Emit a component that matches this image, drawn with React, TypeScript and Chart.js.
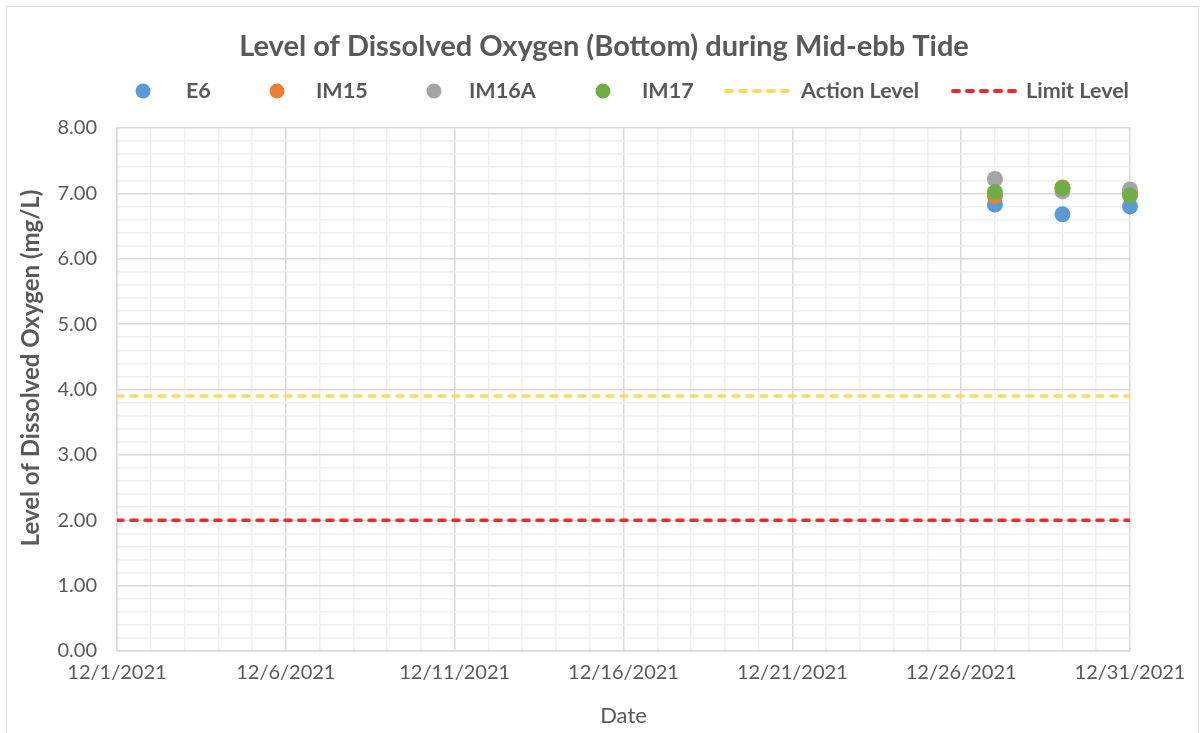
import React, { useEffect, useRef } from 'react';
import { Chart, registerables } from 'chart.js';

Chart.register(...registerables);

// ---- data ----
const sampleDates = ['12/27/2021', '12/29/2021', '12/31/2021'];
const e6Values = [6.83, 6.68, 6.8];
const im15Values = [6.96, 7.09, 7.0];
const im16aValues = [7.22, 7.03, 7.06];
const im17Values = [7.02, 7.08, 6.97];
const actionLevel = 3.9;
const limitLevel = 2.0;
const xRange = ['12/1/2021', '12/31/2021'];
const xTickLabels = ['12/1/2021', '12/6/2021', '12/11/2021', '12/16/2021', '12/21/2021', '12/26/2021', '12/31/2021'];
const yTickLabels = ['0.00', '1.00', '2.00', '3.00', '4.00', '5.00', '6.00', '7.00', '8.00'];

const TITLE = 'Level of Dissolved Oxygen (Bottom) during Mid-ebb Tide';
const Y_TITLE = 'Level of Dissolved Oxygen (mg/L)';
const X_TITLE = 'Date';

const FONT = 'Lato, "Open Sans", sans-serif';
const TEXT = '#595959';

const toDay = (s: string) => {
  const [m, d, y] = s.split('/').map(Number);
  const [m0, d0, y0] = xRange[0].split('/').map(Number);
  return Math.round((Date.UTC(y, m - 1, d) - Date.UTC(y0, m0 - 1, d0)) / 86400000);
};

const pts = (vals: number[]) => vals.map((v, i) => ({ x: toDay(sampleDates[i]), y: v }));
const levelLine = (v: number) => [
  { x: toDay(xRange[0]), y: v },
  { x: toDay(xRange[1]), y: v },
];

const isInt = (v: number) => Math.abs(v - Math.round(v)) < 1e-6;

const legendItems = [
  { label: 'E6', color: '#5B9BD5', kind: 'dot', mx: 143, tx: 186 },
  { label: 'IM15', color: '#ED7D31', kind: 'dot', mx: 277, tx: 316 },
  { label: 'IM16A', color: '#A5A5A5', kind: 'dot', mx: 434, tx: 469 },
  { label: 'IM17', color: '#70AD47', kind: 'dot', mx: 603, tx: 642 },
  { label: 'Action Level', color: '#FFD966', kind: 'line', mx: 724, tx: 801 },
  { label: 'Limit Level', color: '#EE2A2A', kind: 'line', mx: 951, tx: 1026 },
];

const decorPlugin = {
  id: 'decor',
  beforeDraw(chart: any) {
    const ctx = chart.ctx;
    ctx.save();
    ctx.fillStyle = '#ffffff';
    ctx.fillRect(0, 0, chart.width, chart.height);
    ctx.strokeStyle = '#d9d9d9';
    ctx.lineWidth = 1;
    ctx.strokeRect(6.5, 6.5, 1192, 740);
    ctx.restore();
  },
  afterDraw(chart: any) {
    const ctx = chart.ctx;
    const area = chart.chartArea;
    ctx.save();
    ctx.fillStyle = TEXT;
    // title
    ctx.font = `bold 29px ${FONT}`;
    ctx.textAlign = 'center';
    ctx.textBaseline = 'middle';
    ctx.fillText(TITLE, 604, 47);
    // legend
    const ly = 91;
    ctx.font = `bold 21.5px ${FONT}`;
    ctx.textAlign = 'left';
    for (const it of legendItems) {
      if (it.kind === 'dot') {
        ctx.fillStyle = it.color;
        ctx.beginPath();
        ctx.arc(it.mx, ly, 7.5, 0, Math.PI * 2);
        ctx.fill();
      } else {
        ctx.strokeStyle = it.color;
        ctx.lineWidth = 4;
        ctx.lineCap = 'round';
        ctx.setLineDash([6, 8]);
        ctx.beginPath();
        ctx.moveTo(it.mx + 2, ly);
        ctx.lineTo(it.mx + 68, ly);
        ctx.stroke();
        ctx.setLineDash([]);
      }
      ctx.fillStyle = TEXT;
      ctx.fillText(it.label, it.tx, ly);
    }
    // axis titles
    ctx.font = `22px ${FONT}`;
    ctx.textAlign = 'center';
    ctx.fillText(X_TITLE, (area.left + area.right) / 2, 716);
    ctx.save();
    ctx.translate(31, 368);
    ctx.rotate(-Math.PI / 2);
    ctx.font = `bold 24px ${FONT}`;
    ctx.fillText(Y_TITLE, 0, 0);
    ctx.restore();
    ctx.restore();
  },
};

export default function App() {
  const ref = useRef<HTMLCanvasElement | null>(null);

  useEffect(() => {
    document.body.style.margin = '0';
    if (!ref.current) return;
    const dot = (label: string, data: number[], color: string, order: number) => ({
      label,
      data: pts(data),
      backgroundColor: color,
      borderColor: color,
      pointRadius: 8,
      pointBorderWidth: 0,
      showLine: false,
      clip: false as any,
      order,
    });
    const line = (label: string, v: number, color: string, order: number) => ({
      label,
      data: levelLine(v),
      borderColor: color,
      backgroundColor: color,
      borderWidth: 3.5,
      borderDash: [6, 8],
      borderCapStyle: 'round' as const,
      pointRadius: 0,
      showLine: true,
      order,
    });
    const chart = new Chart(ref.current, {
      type: 'scatter',
      data: {
        datasets: [
          dot('E6', e6Values, '#5B9BD5', 4),
          dot('IM15', im15Values, '#ED7D31', 3),
          dot('IM16A', im16aValues, '#A5A5A5', 2),
          dot('IM17', im17Values, '#70AD47', 1),
          line('Action Level', actionLevel, '#FFD966', 5),
          line('Limit Level', limitLevel, '#EE2A2A', 6),
        ] as any,
      },
      options: {
        animation: false,
        responsive: false,
        layout: { padding: { top: 128, right: 72, left: 0, bottom: 0 } },
        plugins: {
          legend: { display: false },
          title: { display: false },
          tooltip: { enabled: false },
        },
        scales: {
          x: {
            type: 'linear',
            min: toDay(xRange[0]),
            max: toDay(xRange[1]),
            afterFit: (s: any) => {
              s.height = 82;
            },
            ticks: {
              stepSize: 1,
              autoSkip: false,
              maxRotation: 0,
              minRotation: 0,
              padding: 10,
              color: TEXT,
              font: { family: FONT, size: 20 },
              callback: (v: any) => (Number(v) % 5 === 0 ? xTickLabels[Number(v) / 5] : ''),
            },
            grid: {
              drawTicks: false,
              color: (c: any) => (c.tick && c.tick.value % 5 === 0 ? '#d9d9d9' : '#f0f0f0'),
              lineWidth: 1.5,
            },
            border: { color: '#d9d9d9', width: 1.5 },
          },
          y: {
            min: 0,
            max: 8,
            afterFit: (s: any) => {
              s.width = 117;
            },
            ticks: {
              stepSize: 0.2,
              autoSkip: false,
              padding: 20,
              color: TEXT,
              font: { family: FONT, size: 20 },
              callback: (v: any) => (isInt(Number(v)) ? yTickLabels[Math.round(Number(v))] : ''),
            },
            grid: {
              drawTicks: false,
              color: (c: any) => (c.tick && isInt(c.tick.value) ? '#d9d9d9' : '#f0f0f0'),
              lineWidth: 1.5,
            },
            border: { color: '#d9d9d9', width: 1.5 },
          },
        },
      },
      plugins: [decorPlugin],
    });
    return () => chart.destroy();
  }, []);

  return (
    <div style={{ width: 1202, height: 733 }}>
      <canvas ref={ref} width={1202} height={733} style={{ display: 'block', width: 1202, height: 733 }} />
    </div>
  );
}
